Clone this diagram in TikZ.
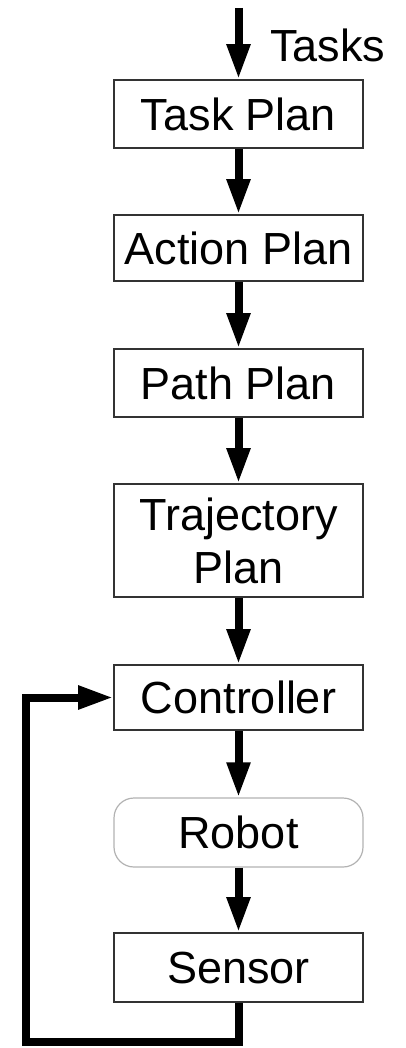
\documentclass[tikz,border=0pt]{standalone}
\usepackage{fontspec}
\setmainfont{Liberation Sans}
\usetikzlibrary{arrows.meta}
\begin{document}
\begin{tikzpicture}[x=1pt,y=-1pt,
  box/.style={draw=black!80,line width=1.6pt,minimum width=249pt,inner sep=0pt,align=center,font=\fontsize{45}{53}\selectfont},
  rbox/.style={box,draw=black!30,line width=1.2pt,rounded corners=20pt},
  flow/.style={line width=8pt,-{Triangle[width=22pt,length=35pt]}}]
\useasboundingbox (0,0) rectangle (405,1048);
\node[box,minimum height=68pt] (tp) at (238.5,114) {Task Plan};
\node[box,minimum height=66pt] (ap) at (238.5,248) {Action Plan};
\node[box,minimum height=68pt] (pp) at (238.5,383) {Path Plan};
\node[box,minimum height=113pt] (trp) at (238.5,540.5) {Trajectory\\Plan};
\node[box,minimum height=65pt] (ctl) at (238.5,697.5) {Controller};
\node[rbox,minimum height=69pt] (rob) at (238.5,832.5) {Robot};
\node[box,minimum height=69pt] (sen) at (238.5,967.5) {Sensor};
\coordinate (top) at (238.5,8);
\node[anchor=base west,inner sep=0pt,font=\fontsize{45}{53}\selectfont] (tasks) at (270,62) {Tasks};
\draw[flow] (top) -- (tp.north);
\draw[flow] (tp) -- (ap);
\draw[flow] (ap) -- (pp);
\draw[flow] (pp) -- (trp);
\draw[flow] (trp) -- (ctl);
\draw[flow] (ctl) -- (rob);
\draw[flow] (rob) -- (sen);
\coordinate (c1) at (238.5,1042);
\coordinate (c2) at (26,1042);
\coordinate (c3) at (26,697.5);
\draw[flow] (sen.south) -- (c1) -- (c2) -- (c3) -- (ctl.west);
\end{tikzpicture}
\end{document}
